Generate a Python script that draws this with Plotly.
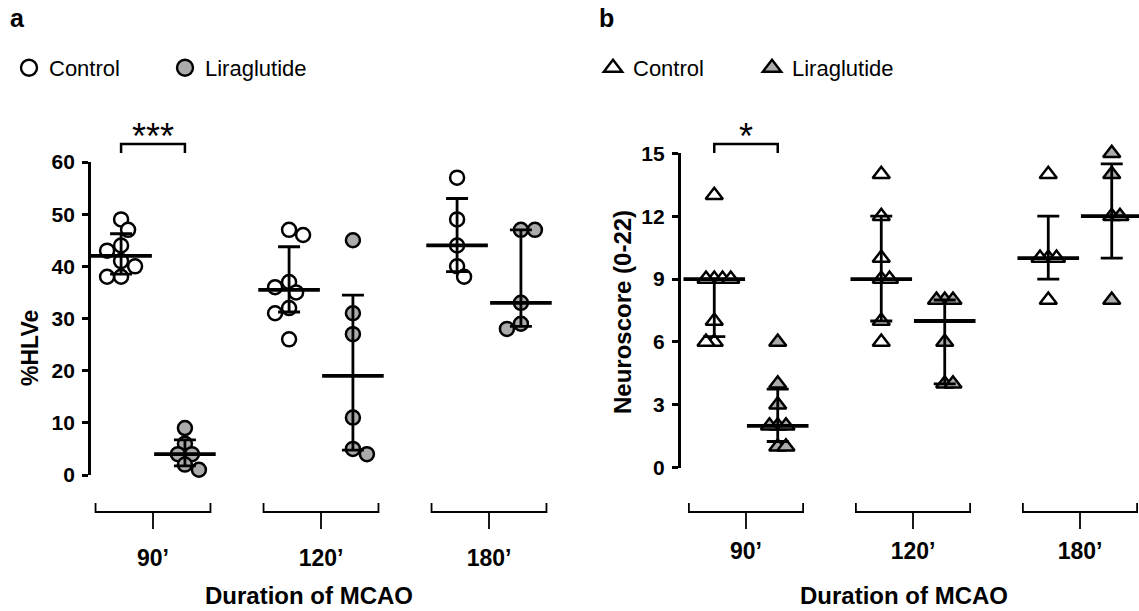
import numpy as np
import plotly.graph_objects as go

# ---------------- data ----------------
durations = ["90’", "120’", "180’"]
treatments = ["Control", "Liraglutide"]

hlve_control = [[49, 47, 44, 43, 41, 40, 38, 38],
                [47, 46, 37, 36, 35, 32, 31, 26],
                [57, 49, 44, 40, 38]]
hlve_liraglutide = [[9, 6, 4, 4, 2, 1],
                    [45, 31, 27, 11, 5, 4],
                    [47, 47, 33, 29, 28]]

neuro_control = [[13, 9, 9, 9, 9, 7, 6, 6],
                 [14, 12, 10, 9, 9, 7, 6],
                 [14, 10, 10, 10, 8]]
neuro_liraglutide = [[6, 4, 3, 2, 2, 2, 1, 1],
                     [8, 8, 8, 6, 4, 4],
                     [15, 14, 12, 12, 8]]

hlve_ticks = [0, 10, 20, 30, 40, 50, 60]
neuro_ticks = [0, 3, 6, 9, 12, 15]

panel_letters = ["a", "b"]
y_titles = ["%HLVe", "Neuroscore (0-22)"]
x_title = "Duration of MCAO"
significance = ["***", "*"]

# ---------------- styling / layout ----------------
W, H = 1139, 611
FONT = "Liberation Sans, Arial, sans-serif"
GREY = "#ababab"
OFF = 0.19  # offset of control / liraglutide column from group centre

fig = go.Figure()

panels = [
    dict(x="x", y="y", xa="xaxis", ya="yaxis", ctrl=hlve_control, lira=hlve_liraglutide,
         sym="circle", size=14, px_x=168.0, ymax=60, ticks=hlve_ticks, g0=153.0,
         xpix=(91, 575), ypix=(475, 162), legend="legend", sw=(0.5, 0.8)),
    dict(x="x2", y="y2", xa="xaxis2", ya="yaxis2", ctrl=neuro_control, lira=neuro_liraglutide,
         sym="triangle-up", size=15, px_x=167.0, ymax=15, ticks=neuro_ticks, g0=746.0,
         xpix=(680.7, 1139), ypix=(467.7, 153.3), legend="legend2", sw=(0.55, 0.55)),
]


def swarm(values, px_per_unit, diam, px_per_x, step_f, mind_f):
    """Spread overlapping points horizontally (simple beeswarm)."""
    order = sorted(range(len(values)), key=lambda i: -values[i])
    placed = []
    offs = [0.0] * len(values)
    step = step_f * diam
    mind = mind_f * diam
    for i in order:
        yv = values[i] * px_per_unit
        s = sum(p[0] for p in placed)
        sign = -1 if s > 0 else 1
        cands = [0.0]
        for k in range(1, 10):
            cands += [sign * k * step, -sign * k * step]
        chosen = cands[-1]
        for c in cands:
            if all(np.hypot(c - p[0], yv - p[1]) >= mind - 1e-9 for p in placed):
                chosen = c
                break
        placed.append((chosen, yv))
        offs[i] = chosen / px_per_x
    return offs


for p in panels:
    px_per_unit = (p["ypix"][0] - p["ypix"][1]) / p["ymax"]
    for t_i, (name, groups, fill) in enumerate([("Control", p["ctrl"], "white"),
                                                 ("Liraglutide", p["lira"], GREY)]):
        sgn = -1 if t_i == 0 else 1
        xs, ys = [], []
        meds, q1s, q3s, mx = [], [], [], []
        for g, vals in enumerate(groups):
            offs = swarm(vals, px_per_unit, p["size"], p["px_x"], *p["sw"])
            xs += [g + sgn * OFF + o for o in offs]
            ys += list(vals)
            q1, med, q3 = np.percentile(vals, [25, 50, 75], method="weibull")
            meds.append(med); q1s.append(q1); q3s.append(q3)
            mx.append(g + sgn * OFF)
        # individual points
        fig.add_trace(go.Scatter(
            x=xs, y=ys, mode="markers", xaxis=p["x"], yaxis=p["y"], showlegend=False,
            marker=dict(symbol=p["sym"], size=p["size"], color=fill,
                        line=dict(color="black", width=2.5)),
            cliponaxis=False, hoverinfo="y"))
        # median with interquartile range
        fig.add_trace(go.Scatter(
            x=mx, y=meds, mode="markers", xaxis=p["x"], yaxis=p["y"], showlegend=False,
            marker=dict(symbol="line-ew", size=44, color="black",
                        line=dict(color="black", width=3.8)),
            error_y=dict(type="data", symmetric=False,
                         array=[a - b for a, b in zip(q3s, meds)],
                         arrayminus=[b - a for a, b in zip(q1s, meds)],
                         color="black", thickness=2.8, width=11),
            cliponaxis=False, hoverinfo="y"))
        # legend entry (bigger symbol, like the reference)
        fig.add_trace(go.Scatter(
            x=[None], y=[None], mode="markers", xaxis=p["x"], yaxis=p["y"], name=name,
            legend=p["legend"],
            marker=dict(symbol=p["sym"], size=16, color=fill,
                        line=dict(color="black", width=2.4))))

    # axes
    x0, x1 = p["xpix"]
    rng_lo = (x0 - p["g0"]) / p["px_x"]
    fig.update_layout(**{
        p["xa"]: dict(domain=[x0 / W, x1 / W],
                      range=[rng_lo, rng_lo + (x1 - x0) / p["px_x"]],
                      showgrid=False, zeroline=False, showline=False, ticks="",
                      tickvals=[0, 1, 2], ticktext=durations, automargin=False,
                      tickfont=dict(family=FONT, size=23, color="black", weight="bold"),
                      ticklabelstandoff=67, anchor=p["y"], fixedrange=True),
        p["ya"]: dict(domain=[1 - p["ypix"][0] / H, 1 - p["ypix"][1] / H],
                      range=[0, p["ymax"]], tickvals=p["ticks"], automargin=False,
                      showgrid=False, zeroline=False, showline=True,
                      linecolor="black", linewidth=2.8,
                      ticks="outside", ticklen=6, tickwidth=2.8, tickcolor="black",
                      tickfont=dict(family=FONT, size=21, color="black", weight="bold"),
                      ticklabelstandoff=3, anchor=p["x"], fixedrange=True),
    })

shapes = []
annotations = []
# category brackets below x-axis
for p in panels:
    for g in range(len(durations)):
        hw = 0.342
        y_top, y_mid, y_bot = 1 - 503 / H, 1 - 512 / H, 1 - 529 / H
        shapes.append(dict(type="path", xref=p["x"], yref="paper",
                           path=f"M{g - hw},{y_top} L{g - hw},{y_mid} L{g + hw},{y_mid} L{g + hw},{y_top} "
                                f"M{g},{y_mid} L{g},{y_bot}",
                           line=dict(color="black", width=1.8)))
    # significance bracket (90' control vs liraglutide)
    y_h, y_l = 1 - 144 / H, 1 - 153 / H
    shapes.append(dict(type="path", xref=p["x"], yref="paper",
                       path=f"M{-OFF},{y_l} L{-OFF},{y_h} L{OFF},{y_h} L{OFF},{y_l}",
                       line=dict(color="black", width=2.5)))

for p, sig in zip(panels, significance):
    annotations.append(dict(xref=p["x"], yref="paper", x=0, y=1 - 136 / H, text=sig,
                            showarrow=False, xanchor="center", yanchor="middle",
                            font=dict(family=FONT, size=36, color="black")))

# panel letters
annotations.append(dict(xref="paper", yref="paper", x=8 / W, y=1 - 18 / H, text=panel_letters[0],
                        showarrow=False, xanchor="left", yanchor="middle",
                        font=dict(family=FONT, size=25, color="black", weight="bold")))
annotations.append(dict(xref="paper", yref="paper", x=597 / W, y=1 - 18 / H, text=panel_letters[1],
                        showarrow=False, xanchor="left", yanchor="middle",
                        font=dict(family=FONT, size=25, color="black", weight="bold")))
# y titles
annotations.append(dict(xref="paper", yref="paper", x=30 / W, y=1 - 348 / H, text=y_titles[0],
                        showarrow=False, textangle=-90, xanchor="center", yanchor="middle",
                        font=dict(family=FONT, size=23, color="black", weight="bold")))
annotations.append(dict(xref="paper", yref="paper", x=622 / W, y=1 - 312 / H, text=y_titles[1],
                        showarrow=False, textangle=-90, xanchor="center", yanchor="middle",
                        font=dict(family=FONT, size=24, color="black", weight="bold")))
# x titles
for xc in (309, 904):
    annotations.append(dict(xref="paper", yref="paper", x=xc / W, y=1 - 595 / H, text=x_title,
                            showarrow=False, xanchor="center", yanchor="middle",
                            font=dict(family=FONT, size=24, color="black", weight="bold")))

legend_style = dict(orientation="h", yanchor="middle", xanchor="left",
                    font=dict(family=FONT, size=22, color="black"),
                    bgcolor="rgba(0,0,0,0)", borderwidth=0,
                    entrywidthmode="pixels", itemclick=False, itemdoubleclick=False)

fig.update_layout(
    template="none",
    width=W, height=H,
    margin=dict(l=0, r=0, t=0, b=0, autoexpand=False),
    paper_bgcolor="white", plot_bgcolor="white",
    shapes=shapes, annotations=annotations,
    legend=dict(x=9 / W, y=1 - 68 / H, entrywidth=111, **legend_style),
    legend2=dict(x=593 / W, y=1 - 68 / H, entrywidth=114, **legend_style),
    font=dict(family=FONT, color="black"),
)

fig.write_html("out.html", config={"displayModeBar": False},
               post_script="document.body.style.margin='0px';document.body.style.padding='0px';")
